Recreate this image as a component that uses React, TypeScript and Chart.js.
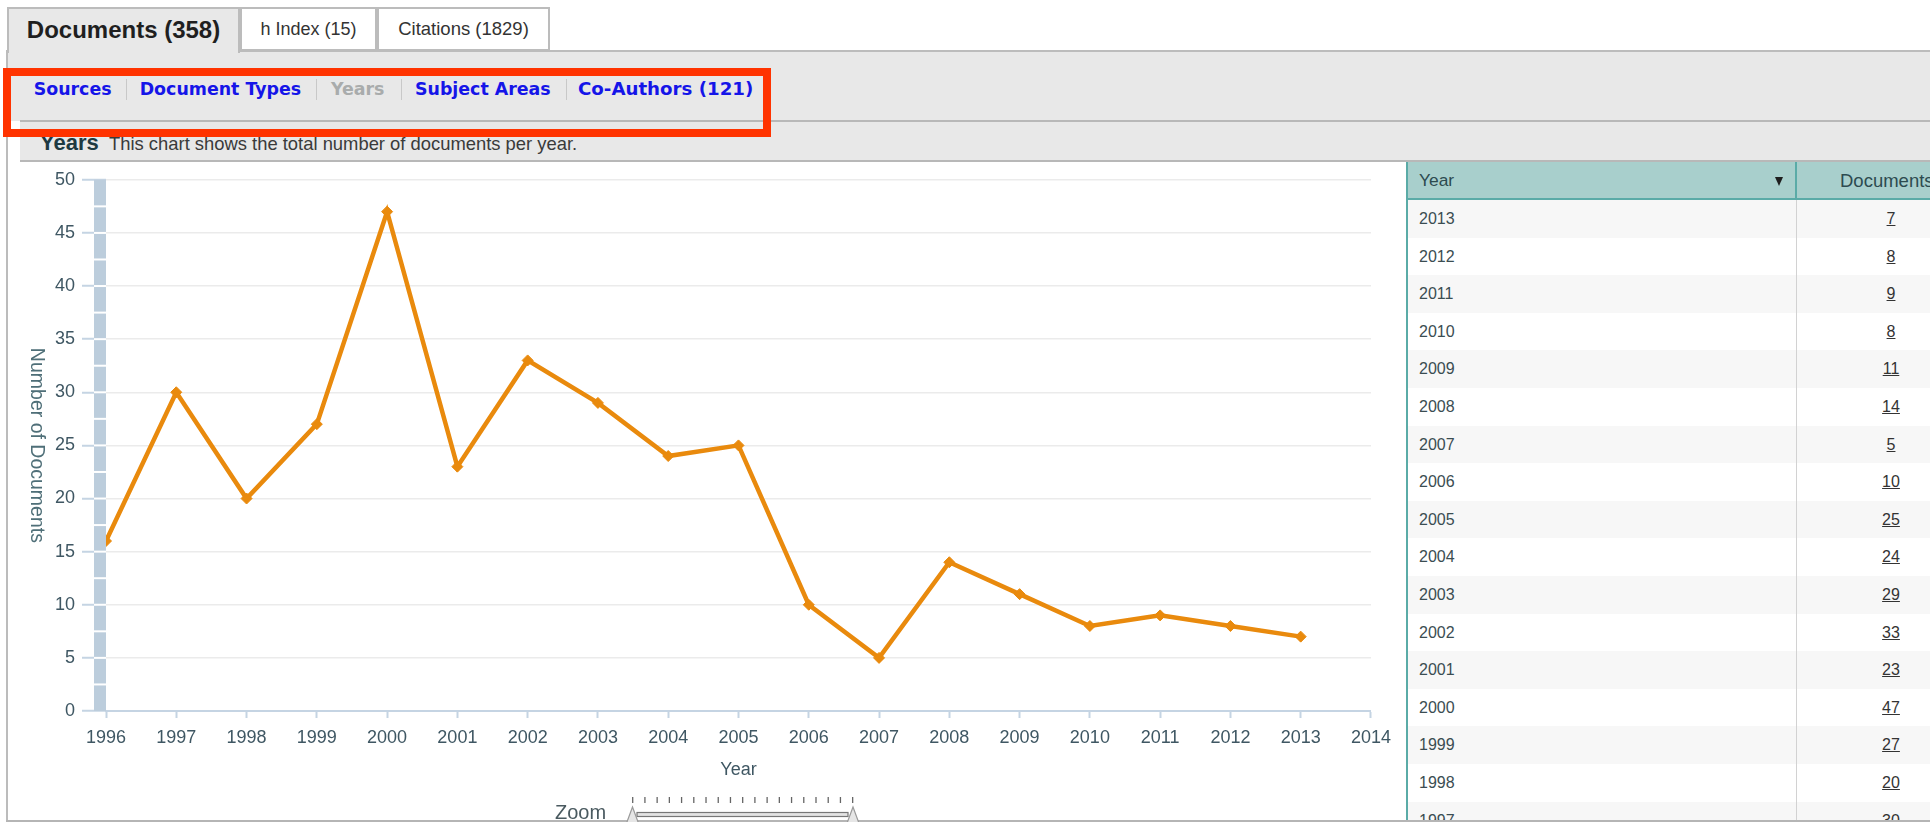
import React, { useEffect, useRef } from 'react';
import { Chart, registerables } from 'chart.js';

Chart.register(...registerables);

// ---- data ----
const years = [1996, 1997, 1998, 1999, 2000, 2001, 2002, 2003, 2004, 2005, 2006, 2007, 2008, 2009, 2010, 2011, 2012, 2013];
const documentCounts = [16, 30, 20, 27, 47, 23, 33, 29, 24, 25, 10, 5, 14, 11, 8, 9, 8, 7];
const xAxisMin = 1996;
const xAxisMax = 2014;
const yAxisMin = 0;
const yAxisMax = 50;
const yTickStep = 5;
const yBandStep = 2.5;
const xTitle = 'Year';
const yTitle = 'Number of Documents';
const tableYears = [...years].reverse().concat([1997]);
const tableCounts = [...documentCounts].reverse().concat([30]);

const SANS = '"Liberation Sans", Arial, Helvetica, sans-serif';
const VERD = '"DejaVu Sans", Verdana, sans-serif';
const AXIS_TEXT = '#3f5763';
const AXIS_LINE = '#c5d4e3';
const LINE_COLOR = '#e98a0d';

const bandPlugin = {
  id: 'yBand',
  afterDatasetsDraw(chart: any) {
    const { ctx, chartArea, scales } = chart;
    const y = scales.y;
    const w = 12;
    ctx.save();
    ctx.fillStyle = '#bccddc';
    ctx.fillRect(chartArea.left - w, chartArea.top, w, chartArea.bottom - chartArea.top);
    ctx.fillStyle = '#ffffff';
    for (let v = yAxisMin + yBandStep; v < yAxisMax; v += yBandStep) {
      const py = y.getPixelForValue(v);
      ctx.fillRect(chartArea.left - w, py - 1, w, 2);
    }
    ctx.restore();
  },
  afterDraw(chart: any) {
    const { ctx, chartArea } = chart;
    ctx.save();
    ctx.translate(36, (chartArea.top + chartArea.bottom) / 2);
    ctx.rotate(Math.PI / 2);
    ctx.font = '19.5px ' + SANS;
    ctx.fillStyle = '#4f6f78';
    ctx.textAlign = 'center';
    ctx.textBaseline = 'middle';
    ctx.fillText(yTitle, 0, 0);
    ctx.restore();
  },
};

const tabs = [
  { label: 'Documents (358)', left: 7, width: 233, active: true, size: 24 },
  { label: 'h Index (15)', left: 240, width: 137, active: false, size: 18 },
  { label: 'Citations (1829)', left: 377, width: 173, active: false, size: 18.5 },
];

const subNav = [
  { label: 'Sources', left: 33.7, active: true, size: 17.4 },
  { label: 'Document Types', left: 139.7, active: true, size: 17.4 },
  { label: 'Years', left: 331, active: false, size: 17.4 },
  { label: 'Subject Areas', left: 415, active: true, size: 17.4 },
  { label: 'Co-Authors (121)', left: 578, active: true, size: 18.2 },
];
const subNavSeparators = [126, 316, 401, 566];

export default function App() {
  const canvasRef = useRef<HTMLCanvasElement>(null);

  useEffect(() => {
    const chart = new Chart(canvasRef.current as HTMLCanvasElement, {
      type: 'line',
      data: {
        datasets: [
          {
            data: years.map((yr, i) => ({ x: yr, y: documentCounts[i] })),
            borderColor: LINE_COLOR,
            backgroundColor: LINE_COLOR,
            borderWidth: 4.5,
            tension: 0,
            pointStyle: 'rectRot',
            pointRadius: 5.5,
            pointBorderWidth: 1,
            pointBackgroundColor: LINE_COLOR,
            pointBorderColor: LINE_COLOR,
            fill: false,
          },
        ],
      },
      options: {
        animation: false,
        responsive: false,
        layout: { padding: { left: 0, top: 17, right: 29, bottom: 0 } },
        plugins: { legend: { display: false }, tooltip: { enabled: false } },
        scales: {
          x: {
            type: 'linear',
            min: xAxisMin,
            max: xAxisMax,
            afterFit: (s: any) => {
              s.height = 111;
            },
            ticks: {
              stepSize: 1,
              autoSkip: false,
              maxRotation: 0,
              callback: (v: any) => String(v),
              font: { size: 18, family: SANS },
              color: AXIS_TEXT,
              padding: 9,
            },
            grid: { drawOnChartArea: false, tickLength: 7, tickColor: AXIS_LINE, tickWidth: 2 },
            border: { color: AXIS_LINE, width: 2 },
            title: {
              display: true,
              text: xTitle,
              font: { size: 18, family: SANS },
              color: AXIS_TEXT,
              padding: { top: 0, bottom: 41 },
            },
          },
          y: {
            min: yAxisMin,
            max: yAxisMax,
            afterFit: (s: any) => {
              s.width = 106;
            },
            ticks: {
              stepSize: yTickStep,
              font: { size: 18, family: SANS },
              color: AXIS_TEXT,
              padding: 7,
            },
            grid: {
              color: (c: any) => (c.tick && c.tick.value === 0 ? 'rgba(0,0,0,0)' : '#ebebeb'),
              lineWidth: 1.5,
              tickLength: 24,
              tickColor: AXIS_LINE,
              tickWidth: 2,
            },
            border: { display: false },
          },
        },
      },
      plugins: [bandPlugin],
    } as any);
    return () => chart.destroy();
  }, []);

  const sliderTicks: number[] = [];
  for (let i = 0; i < 19; i++) sliderTicks.push(632.7 + i * 12.22);

  return (
    <div
      style={{
        position: 'absolute',
        left: 0,
        top: 0,
        width: 1930,
        height: 822,
        overflow: 'hidden',
        background: '#ffffff',
        fontFamily: SANS,
      }}
    >
      {/* subnav panel */}
      <div
        style={{
          position: 'absolute',
          left: 6,
          top: 50,
          width: 1924,
          height: 71,
          background: '#e8e8e8',
          borderTop: '2px solid #bcbcbc',
          boxSizing: 'border-box',
        }}
      />
      {/* left border */}
      <div style={{ position: 'absolute', left: 6, top: 50, width: 2, height: 772, background: '#bcbcbc' }} />
      {/* header bar */}
      <div
        style={{
          position: 'absolute',
          left: 20,
          top: 120,
          width: 1910,
          height: 42,
          background: '#e8e8e8',
          borderTop: '2px solid #b8b8b8',
          borderBottom: '2px solid #b8b8b8',
          boxSizing: 'border-box',
        }}
      />
      {/* bottom border */}
      <div style={{ position: 'absolute', left: 6, top: 820, width: 1924, height: 2, background: '#b5b5b5' }} />

      {/* tabs */}
      {tabs.map((t) => (
        <div
          key={t.label}
          style={{
            position: 'absolute',
            left: t.left,
            top: 7,
            width: t.width,
            height: t.active ? 46 : 44,
            boxSizing: 'border-box',
            background: t.active ? '#e8e8e8' : '#ffffff',
            border: '2px solid #bcbcbc',
            borderBottom: t.active ? 'none' : '2px solid #bcbcbc',
            display: 'flex',
            alignItems: 'center',
            justifyContent: 'center',
            paddingBottom: t.active ? 2 : 0,
            fontSize: t.size,
            fontWeight: t.active ? 'bold' : 'normal',
            color: t.active ? '#1f1f1f' : '#333333',
            zIndex: 2,
            whiteSpace: 'nowrap',
          }}
        >
          {t.label}
        </div>
      ))}

      {/* sub navigation */}
      {subNav.map((s) => (
        <span
          key={s.label}
          style={{
            position: 'absolute',
            left: s.left,
            top: 78,
            lineHeight: '22px',
            fontFamily: VERD,
            fontWeight: 'bold',
            fontSize: s.size,
            color: s.active ? '#1515e8' : '#a9acac',
            whiteSpace: 'nowrap',
            zIndex: 3,
          }}
        >
          {s.label}
        </span>
      ))}
      {subNavSeparators.map((x) => (
        <div key={x} style={{ position: 'absolute', left: x, top: 79, width: 1, height: 21, background: '#c8c8c8', zIndex: 3 }} />
      ))}

      {/* header text */}
      <span
        style={{
          position: 'absolute',
          left: 40,
          top: 132,
          fontSize: 22,
          lineHeight: '22px',
          fontWeight: 'bold',
          color: '#1e3a42',
          whiteSpace: 'nowrap',
        }}
      >
        Years
      </span>
      <span
        style={{
          position: 'absolute',
          left: 109,
          top: 135,
          fontSize: 18.4,
          lineHeight: '18.4px',
          color: '#3a3a3a',
          whiteSpace: 'nowrap',
        }}
      >
        This chart shows the total number of documents per year.
      </span>

      {/* chart */}
      <canvas ref={canvasRef} width={1400} height={660} style={{ position: 'absolute', left: 0, top: 162 }} />

      {/* zoom control */}
      <span
        style={{
          position: 'absolute',
          left: 555,
          top: 802,
          fontSize: 20,
          lineHeight: '20px',
          color: '#4a5a60',
          whiteSpace: 'nowrap',
        }}
      >
        Zoom
      </span>
      <svg
        width={340}
        height={40}
        style={{ position: 'absolute', left: 600, top: 790 }}
        viewBox="600 790 340 40"
      >
        {sliderTicks.map((x, i) => (
          <line key={i} x1={x} y1={797} x2={x} y2={803} stroke="#666" strokeWidth={1.3} />
        ))}
        <rect x={637} y={812.5} width={211} height={4} fill="#e4e4e4" stroke="#777" strokeWidth={1.2} />
        <polygon points="632.5,807 624,830 641,830" fill="#e6e6e6" stroke="#9a9a9a" strokeWidth={1.2} />
        <polygon points="853,807 844.5,830 861.5,830" fill="#e6e6e6" stroke="#9a9a9a" strokeWidth={1.2} />
      </svg>

      {/* table */}
      <div
        style={{
          position: 'absolute',
          left: 1406,
          top: 162,
          width: 524,
          height: 658,
          overflow: 'hidden',
          borderLeft: '2px solid #5aaba7',
          boxSizing: 'border-box',
          background: '#ffffff',
        }}
      >
        <div
          style={{
            position: 'absolute',
            left: 0,
            top: 0,
            width: 600,
            height: 38,
            background: '#a8cfcc',
            borderBottom: '2px solid #5aaba7',
            boxSizing: 'border-box',
          }}
        >
          <span
            style={{
              position: 'absolute',
              left: 11,
              top: 0,
              lineHeight: '37px',
              fontSize: 17.4,
              color: '#2d4b50',
            }}
          >
            Year
          </span>
          <div
            style={{
              position: 'absolute',
              left: 367,
              top: 15,
              width: 0,
              height: 0,
              borderLeft: '4.5px solid transparent',
              borderRight: '4.5px solid transparent',
              borderTop: '9px solid #1e1e1e',
            }}
          />
          <div style={{ position: 'absolute', left: 387, top: 0, width: 2, height: 38, background: '#5aaba7' }} />
          <span
            style={{
              position: 'absolute',
              left: 432,
              top: 0,
              lineHeight: '37px',
              fontSize: 18.5,
              color: '#2d4b50',
              whiteSpace: 'nowrap',
            }}
          >
            Documents
          </span>
        </div>
        {tableYears.map((yr, i) => (
          <div
            key={yr + '-' + i}
            style={{
              position: 'absolute',
              left: 0,
              top: 38 + i * 37.6,
              width: 600,
              height: 37.6,
              background: i % 2 === 0 ? '#f7f7f7' : '#ffffff',
            }}
          >
            <span
              style={{
                position: 'absolute',
                left: 11,
                top: 0,
                lineHeight: '37.6px',
                fontSize: 16,
                color: '#3b4d52',
              }}
            >
              {yr}
            </span>
            <div style={{ position: 'absolute', left: 388, top: 0, width: 1, height: 37.6, background: '#d2d2d2' }} />
            <span
              style={{
                position: 'absolute',
                left: 389,
                width: 188,
                top: 0,
                lineHeight: '37.6px',
                fontSize: 16,
                color: '#333333',
                textAlign: 'center',
                textDecoration: 'underline',
              }}
            >
              {tableCounts[i]}
            </span>
          </div>
        ))}
      </div>

      {/* red annotation box */}
      <div
        style={{
          position: 'absolute',
          left: 3,
          top: 68,
          width: 768,
          height: 69,
          border: '8px solid #ff3300',
          boxSizing: 'border-box',
          zIndex: 10,
        }}
      />
    </div>
  );
}
